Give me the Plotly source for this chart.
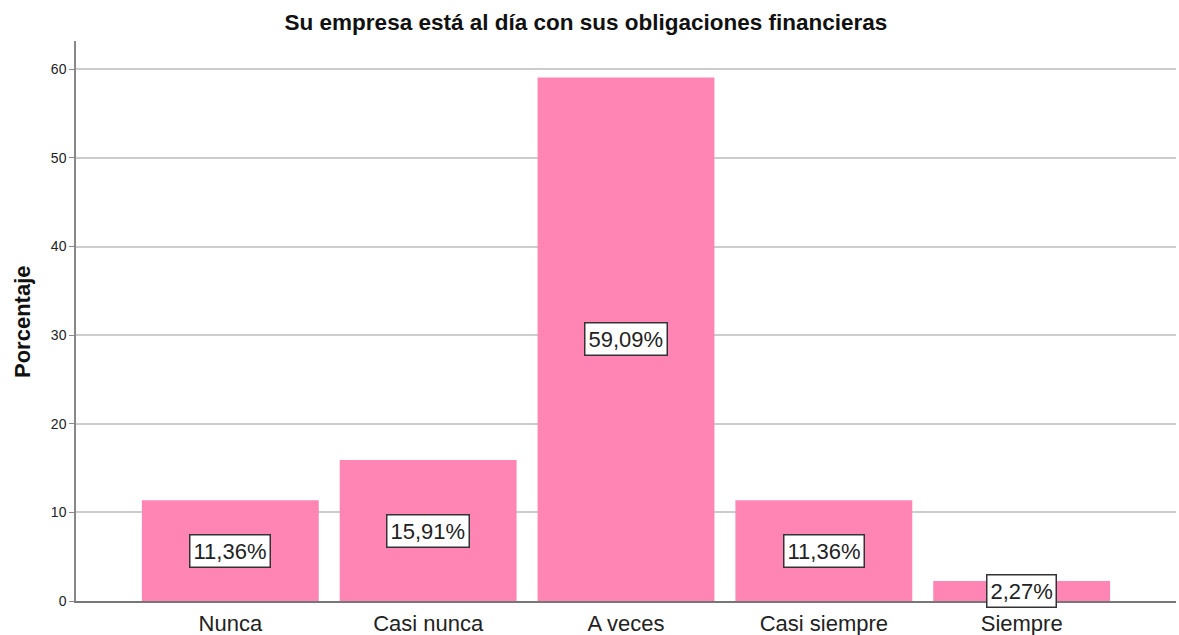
import plotly.graph_objects as go

categories = ["Nunca", "Casi nunca", "A veces", "Casi siempre", "Siempre"]
values = [11.36, 15.91, 59.09, 11.36, 2.27]
labels = ["11,36%", "15,91%", "59,09%", "11,36%", "2,27%"]
y_ticks = [0, 10, 20, 30, 40, 50, 60]

FONT = "Liberation Sans, Arial"

fig = go.Figure()
fig.add_trace(go.Bar(
    x=categories, y=values, width=0.894,
    marker=dict(color="#FF85B5", line=dict(width=0)),
    hoverinfo="skip",
))

for c, v, t in zip(categories, values, labels):
    fig.add_annotation(
        x=c, y=v / 2, text=t, showarrow=False,
        font=dict(family=FONT, size=22, color="#222222"),
        bgcolor="white", bordercolor="#333333", borderwidth=1.5, borderpad=3,
    )

fig.add_annotation(
    xref="paper", yref="paper", x=(22 - 76) / 1100, y=(601 - 322) / 560,
    text="<b>Porcentaje</b>", textangle=-90, showarrow=False,
    xanchor="center", yanchor="middle",
    font=dict(family=FONT, size=22, color="#111111"),
)

fig.update_layout(
    width=1179, height=635,
    margin=dict(l=76, r=3, t=41, b=34, autoexpand=False),
    paper_bgcolor="white", plot_bgcolor="white",
    showlegend=False,
    title=dict(
        text="<b>Su empresa está al día con sus obligaciones financieras</b>",
        x=0.497, xanchor="center", y=1 - 22 / 635, yanchor="middle",
        font=dict(family=FONT, size=22.5, color="#111111"),
    ),
    xaxis=dict(
        range=[-0.78, 4.78], showgrid=False, showline=True, automargin=False,
        linecolor="#777777", linewidth=1.5, ticks="", ticklabelstandoff=2,
        tickfont=dict(family=FONT, size=22, color="#222222"),
        fixedrange=True,
    ),
    yaxis=dict(
        range=[0, 63.2], tickvals=y_ticks, showgrid=True, automargin=False,
        gridcolor="#cccccc", gridwidth=1.5, showline=True,
        linecolor="#888888", linewidth=1.5, ticks="outside", ticklen=5,
        tickcolor="#888888", zeroline=False,
        tickfont=dict(family=FONT, size=14, color="#222222"),
        fixedrange=True,
    ),
)

fig.write_html(
    "out.html",
    config={"displayModeBar": False},
    post_script="document.body.style.margin='0';document.body.style.overflow='hidden';",
)
